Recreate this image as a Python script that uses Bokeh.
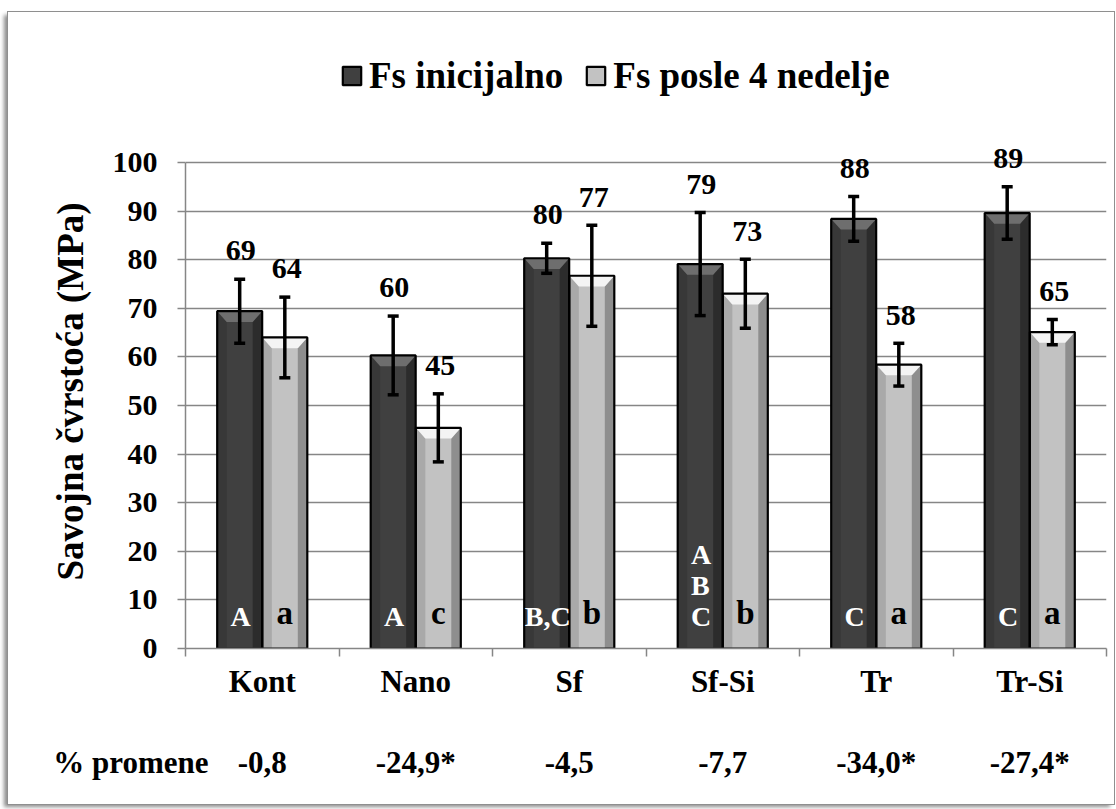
from bokeh.plotting import figure
from bokeh.layouts import column
from bokeh.models import (ColumnDataSource, Range1d, FixedTicker, Whisker, Title,
                          TeeHead, LabelSet, Legend, LegendItem)
from bokeh.core.properties import value
from bokeh.embed import file_html
from bokeh.resources import INLINE

# ---------------- data ----------------
categories = ["Kont", "Nano", "Sf", "Sf-Si", "Tr", "Tr-Si"]
fs_initial = [69.4, 60.3, 80.3, 79.1, 88.4, 89.6]
fs_initial_err = [6.6, 8.1, 3.1, 10.6, 4.6, 5.4]
fs_after = [64.0, 45.4, 76.7, 73.0, 58.4, 65.1]
fs_after_err = [8.3, 7.0, 10.4, 7.1, 4.4, 2.6]
initial_labels = ["69", "60", "80", "79", "88", "89"]
after_labels = ["64", "45", "77", "73", "58", "65"]
initial_letters = ["A", "A", "B,C", "A\nB\nC", "C", "C"]
after_letters = ["a", "c", "b", "b", "a", "a"]
percent_change = ["-0,8", "-24,9*", "-4,5", "-7,7", "-34,0*", "-27,4*"]
percent_title = "% promene"
y_ticks = [0, 10, 20, 30, 40, 50, 60, 70, 80, 90, 100]
series_names = ["Fs inicijalno", "Fs posle 4 nedelje"]
y_title = "Savojna čvrstoća (MPa)"

# ---------------- layout / style constants ----------------
FONT = "Liberation Serif"
GRID = "#868686"
DARK = "#404040"
LIGHT = "#c2c2c2"

W = 1106
H_MAIN, H_PCT = 700, 92
F_LEFT, F_RIGHT_PAD, F_TOP, F_BOTTOM = 177, 8, 10, 636
PX_PER_UNIT = 486 / 100.0
Y_END = (F_BOTTOM - F_TOP) / PX_PER_UNIT
LABEL_GAP = 5.8          # value label distance above error-bar top (axis units)

n = len(categories)
centers = list(range(n))
OFF = 0.147
BW = 0.293
x_init = [c - OFF for c in centers]
x_after = [c + OFF for c in centers]

p = figure(width=W, height=H_MAIN, x_range=Range1d(-0.5, n - 0.5), y_range=Range1d(0, Y_END),
           output_backend="svg", toolbar_location=None,
           min_border_left=F_LEFT, min_border_right=F_RIGHT_PAD, min_border_top=F_TOP,
           min_border_bottom=H_MAIN - F_BOTTOM)
p.outline_line_color = None
p.background_fill_color = "white"
p.border_fill_color = "white"

# ---------------- bars with bevel ----------------
def bevel_shapes(xs, tops, inset, h):
    left_x, left_y, right_x, right_y, top_x, top_y = [], [], [], [], [], []
    for x, t in zip(xs, tops):
        l, r = x - BW / 2, x + BW / 2
        left_x.append([l, l, l + inset, l + inset]); left_y.append([0, t, t - h, 0])
        right_x.append([r, r, r - inset, r - inset]); right_y.append([0, t, t - h, 0])
        top_x.append([l, r, r - inset, l + inset]); top_y.append([t, t, t - h, t - h])
    return left_x, left_y, right_x, right_y, top_x, top_y

src_i = ColumnDataSource(dict(x=x_init, top=fs_initial))
src_a = ColumnDataSource(dict(x=x_after, top=fs_after))

r_i_fill = p.vbar(x="x", top="top", width=BW, source=src_i, fill_color=DARK, line_color=None)
r_a_fill = p.vbar(x="x", top="top", width=BW, source=src_a, fill_color=LIGHT, line_color=None)

INSET, H = 0.062, 2.2
lx, ly, rx, ry, tx, ty = bevel_shapes(x_init, fs_initial, INSET, H)
p.patches(lx, ly, fill_color="#383838", line_color=None)
p.patches(rx, ry, fill_color="#2c2c2c", line_color=None)
p.patches(tx, ty, fill_color="#6e6e6e", line_color=None)
lx, ly, rx, ry, tx, ty = bevel_shapes(x_after, fs_after, INSET, H)
p.patches(lx, ly, fill_color="#a9a9a9", line_color=None)
p.patches(rx, ry, fill_color="#8e8e8e", line_color=None)
p.patches(tx, ty, fill_color="#f4f4f4", line_color=None)

r_i_line = p.vbar(x="x", top="top", width=BW, source=src_i, fill_color=None, line_color="black", line_width=2.2)
r_a_line = p.vbar(x="x", top="top", width=BW, source=src_a, fill_color=None, line_color="black", line_width=2.2)

# ---------------- error bars ----------------
for xs, vals, errs in ((x_init, fs_initial, fs_initial_err), (x_after, fs_after, fs_after_err)):
    es = ColumnDataSource(dict(base=xs, upper=[v + e for v, e in zip(vals, errs)],
                               lower=[v - e for v, e in zip(vals, errs)]))
    w = Whisker(base="base", upper="upper", lower="lower", source=es, level="overlay",
                line_color="black", line_width=3.5,
                upper_head=TeeHead(size=11, line_width=3.5, line_color="black"),
                lower_head=TeeHead(size=11, line_width=3.5, line_color="black"))
    p.add_layout(w)

# ---------------- value labels ----------------
lab_i = ColumnDataSource(dict(x=x_init, y=[v + e + LABEL_GAP for v, e in zip(fs_initial, fs_initial_err)], t=initial_labels))
lab_a = ColumnDataSource(dict(x=x_after, y=[v + e + LABEL_GAP for v, e in zip(fs_after, fs_after_err)], t=after_labels))
for s, xo in ((lab_i, 1), (lab_a, 2)):
    p.add_layout(LabelSet(x="x", y="y", text="t", source=s, x_offset=xo, text_align="center",
                          text_baseline="middle", text_font=FONT, text_font_style="bold",
                          text_font_size="30px", text_color="black", level="overlay"))

# ---------------- significance letters ----------------
let_i = ColumnDataSource(dict(x=x_init, y=[3.3] * n, t=initial_letters))
let_a = ColumnDataSource(dict(x=x_after, y=[3.6] * n, t=after_letters))
p.add_layout(LabelSet(x="x", y="y", text="t", source=let_i, x_offset=1, text_align="center",
                      text_baseline="bottom", text_font=FONT, text_font_style="bold",
                      text_font_size="28px", text_color="white", text_line_height=1.0, level="overlay"))
p.add_layout(LabelSet(x="x", y="y", text="t", source=let_a, x_offset=0, text_align="center",
                      text_baseline="bottom", text_font=FONT, text_font_style="bold",
                      text_font_size="33px", text_color="black", level="overlay"))

# ---------------- axes ----------------
p.ygrid.ticker = FixedTicker(ticks=y_ticks)
p.ygrid.grid_line_color = GRID
p.ygrid.grid_line_width = 1.5
p.xgrid.grid_line_color = None

ya = p.yaxis[0]
ya.ticker = FixedTicker(ticks=y_ticks)
ya.bounds = (0, 100)
ya.axis_line_color = GRID
ya.axis_line_width = 1.5
ya.major_tick_line_color = GRID
ya.major_tick_line_width = 1.5
ya.major_tick_out = 8
ya.major_tick_in = 0
ya.minor_tick_line_color = None
ya.major_label_text_font = FONT
ya.major_label_text_font_style = "bold"
ya.major_label_text_font_size = "30px"
ya.major_label_text_color = "black"
ya.major_label_standoff = 20

p.add_layout(Title(text=y_title, align="left", offset=68, standoff=38,
                   text_font=FONT, text_font_style="bold", text_font_size="37px",
                   text_color="black"), "left")

xa = p.xaxis[0]
xa.ticker = FixedTicker(ticks=centers, minor_ticks=[c - 0.5 for c in centers] + [n - 0.5])
xa.major_label_overrides = {c: name for c, name in zip(centers, categories)}
xa.axis_line_color = GRID
xa.axis_line_width = 1.5
xa.major_tick_line_color = None
xa.major_tick_out = 0
xa.major_tick_in = 0
xa.minor_tick_line_color = GRID
xa.minor_tick_line_width = 1.5
xa.minor_tick_out = 8
xa.minor_tick_in = 0
xa.major_label_text_font = FONT
xa.major_label_text_font_style = "bold"
xa.major_label_text_font_size = "31px"
xa.major_label_text_color = "black"
xa.major_label_standoff = 7

# ---------------- legend ----------------
legend = Legend(items=[LegendItem(label=series_names[0], renderers=[r_i_fill, r_i_line]),
                       LegendItem(label=series_names[1], renderers=[r_a_fill, r_a_line])],
                location=(155, 551), orientation="horizontal",
                label_text_font=FONT, label_text_font_style="bold", label_text_font_size="37px",
                label_text_color="black", glyph_width=23, glyph_height=23, label_height=40,
                label_standoff=6, spacing=21, padding=0, margin=0,
                border_line_color=None, background_fill_alpha=0)
p.add_layout(legend)

# ---------------- "% promene" row (shares the category x scale) ----------------
q = figure(width=W, height=H_PCT, x_range=p.x_range, y_range=Range1d(0, H_PCT),
           output_backend="svg", toolbar_location=None, x_axis_type=None,
           min_border_left=F_LEFT, min_border_right=F_RIGHT_PAD, min_border_top=0, min_border_bottom=0)
q.outline_line_color = None
q.grid.visible = False
ROW_Y = 42
qa = q.yaxis[0]
qa.ticker = FixedTicker(ticks=[ROW_Y])
qa.major_label_overrides = {ROW_Y: percent_title}
qa.axis_line_color = None
qa.major_tick_line_color = None
qa.minor_tick_line_color = None
qa.major_tick_out = 0
qa.major_tick_in = 0
qa.major_label_standoff = -23
qa.major_label_text_font = FONT
qa.major_label_text_font_style = "bold"
qa.major_label_text_font_size = "31px"
qa.major_label_text_color = "black"
q.text(x=centers, y=[ROW_Y] * n, text=percent_change, text_align="center", text_baseline="middle",
       text_font=value(FONT), text_font_style="bold", text_font_size="31px", text_color="black")

layout = column(p, q, spacing=0)
layout.styles = {"margin-left": "8px", "margin-top": "12px", "background-color": "white",
                 "box-shadow": "0 0 0 1px #8f8f8f, -4px 3px 4px 0px rgba(0,0,0,0.45)"}

open("out.html", "w").write(file_html(layout, INLINE))
